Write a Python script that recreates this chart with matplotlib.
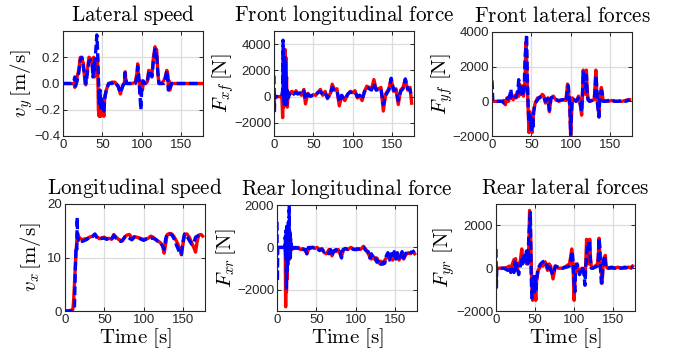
import numpy as np
import matplotlib
matplotlib.use("Agg")
import matplotlib.pyplot as plt

plt.rcParams['mathtext.fontset'] = 'cm'
plt.rcParams['font.family'] = ['Liberation Sans', 'DejaVu Sans']

# ---- lateral speed v_y [m/s] ----
t1 = [0, 5, 10, 14, 15, 16, 18, 20, 22, 24, 26, 28, 29, 31, 33, 35, 37, 38, 39, 40,
      41, 42, 43, 44, 45, 46, 47, 48, 49, 50, 51, 52, 53, 55, 58, 62, 66, 70, 73, 76,
      78, 79, 80, 81, 84, 88, 92, 94, 95, 96, 97, 98, 99, 100, 101, 102, 104, 107, 109, 111,
      113, 115, 117, 118, 119, 120, 121, 122, 125, 128, 130, 132, 133, 134, 135, 136, 138, 140, 145, 150,
      160, 170, 176]
vy_red = [0, 0, 0, 0, -0.03, 0.0, 0.05, 0.1, 0.2, 0.19, 0.15, 0.0, -0.01, 0.1, 0.2, 0.19, 0.15, 0.1, 0.2, 0.05,
          0.15, 0.18, 0.1, 0.19, -0.2, -0.25, -0.1, -0.25, -0.15, -0.24, -0.2, -0.25, -0.1, -0.05, 0.0, 0.01, 0.01, -0.02, -0.08, -0.01,
          0.0, 0.09, 0.02, 0.0, 0.0, 0.0, 0.01, 0.08, 0.15, 0.05, 0.0, -0.08, -0.02, 0.02, -0.05, 0.0, 0.0, 0.01, 0.1, 0.09,
          0.06, 0.2, 0.28, 0.22, 0.26, 0.15, 0.05, 0.0, 0.0, 0.02, 0.05, 0.1, 0.08, -0.03, 0.02, -0.05, 0.0, 0.0, 0, 0,
          0, 0, 0]
vy_blue = [0, 0, 0, 0.02, 0.05, -0.02, 0.02, 0.08, 0.18, 0.2, 0.12, 0.05, 0.0, 0.08, 0.17, 0.18, 0.16, 0.05, 0.15, 0.1,
           0.2, 0.28, 0.37, 0.25, 0.05, -0.15, -0.05, -0.2, -0.1, -0.2, -0.15, -0.21, -0.12, -0.05, 0.0, 0.0, 0.01, -0.02, -0.07, -0.02,
           0.0, 0.08, 0.03, 0.0, 0.0, 0.0, 0.0, 0.05, 0.13, 0.08, 0.0, -0.1, -0.2, -0.05, 0.0, 0.02, 0.0, 0.0, 0.08, 0.1,
           0.05, 0.18, 0.26, 0.2, 0.24, 0.12, 0.06, 0.0, 0.0, 0.0, 0.03, 0.1, 0.06, -0.05, 0.0, -0.03, 0.0, 0.0, 0, 0,
           0, 0, 0]

# ---- front longitudinal force F_xf [N] ----
t2 = [0, 0.5, 1, 1.5, 2, 5, 9, 10, 11, 11.5, 12, 12.5, 13, 13.5, 14, 14.5, 15, 15.5, 16, 16.5,
      17, 18, 20, 23, 25, 28, 30, 33, 35, 38, 40, 43, 46, 50, 53, 56, 59, 62, 65, 68,
      72, 74, 77, 80, 83, 86, 90, 94, 97, 100, 103, 106, 109, 112, 115, 118, 121, 124, 127, 130,
      133, 136, 139, 142, 146, 149, 152, 155, 158, 161, 164, 167, 170, 173, 175]
fxf_red = [0, 0, 0, 0, 0, 0, 0, 0, -1600, 1500, 3300, -800, 2500, 500, 3600, -300, 3000, 800, 1500, -500,
           -800, 200, 300, 400, 200, 450, 250, 300, 100, 550, -550, 250, 0, 150, 100, 350, 550, 100, 400, -150,
           300, 950, 500, 600, -700, 50, -300, 200, 400, 300, 450, -100, 100, -300, 400, 800, 700, 600, 1300, 500,
           600, 700, -1100, 200, 600, 1350, 400, 600, -600, 500, 700, 1300, 500, 700, -500]
fxf_blue = [1600, -1200, 100, 0, 0, 0, 0, 100, 500, 4300, 1000, 2800, -700, 3200, 200, 2500, -200, 1500, -600, 500,
            100, -100, 200, 350, 200, 300, 200, 250, 150, 400, -200, 200, 50, 100, 150, 300, 400, 150, 300, -100,
            250, 700, 500, 450, -400, 100, -200, 200, 350, 300, 350, 0, 100, -200, 350, 700, 600, 500, 1000, 500,
            550, 600, -600, 100, 500, 1400, 500, 500, -300, 400, 600, 1350, 600, 500, -100]

# ---- front lateral force F_yf [N] ----
t3 = [0, 0.5, 1, 3, 8, 13, 15, 17, 19, 21, 23, 24, 25, 27, 29, 31, 33, 34, 35, 37,
      39, 40, 41, 42, 43, 44, 45, 46, 47, 48, 49, 50, 51, 52, 53, 55, 58, 61, 64, 66,
      68, 71, 73, 75, 78, 81, 85, 90, 94, 96, 97, 98, 99, 100, 101, 102, 104, 107, 110, 112,
      114, 115, 116, 117, 118, 119, 120, 121, 122, 124, 127, 130, 131, 132, 133, 134, 135, 136, 137, 139,
      140, 141, 143, 148, 152, 156, 160, 165, 170, 173, 175]
fyf_red = [0, 0, 0, 0, 0, 0, 50, -200, 200, 0, 300, 200, 300, 100, 350, 200, 500, 300, 1000, 400,
           900, 300, 700, 1200, 3400, 2500, 800, -500, -1800, -600, -1500, -900, -1800, -1200, -500, -100, 200, 200, 400, 300,
           -100, 200, -600, 200, 300, 100, 0, 100, 50, 1000, 700, 200, -400, -2000, -1000, 200, 100, 0, 300, -100,
           -800, 300, 1800, 1000, 1500, 400, 1800, 700, 200, 0, 50, 100, 900, 1800, 700, 0, -400, -900, 200, 800,
           600, 100, 0, 0, 50, 0, 0, 0, 50, 100, 100]
fyf_blue = [1200, 700, 0, 0, 0, 0, -100, -50, 100, 200, 400, 700, 200, 100, 200, 300, 700, 1250, 500, 800,
            300, 500, 800, 2500, 3100, 3850, 1300, -300, -1200, -800, -1300, -1800, -1000, -1600, -600, -100, 100, 250, 300, 200,
            0, 150, -500, 200, 250, 100, 50, 100, 0, 700, 900, 300, -300, -1900, -600, 100, 100, 0, 200, -100,
            -600, 400, 1700, 1400, 1200, 800, 1500, 500, 100, 0, 50, 100, 600, 1500, 1000, -100, -500, -900, 300, 600,
            500, 0, 0, 50, 100, 0, 0, 50, 0, 50, 100]

# ---- longitudinal speed v_x [m/s] ----
t4 = [0, 5, 10, 11, 12, 13, 14, 15, 15.5, 16, 17, 19, 22, 25, 28, 31, 35, 38, 41, 44,
      47, 50, 53, 56, 59, 62, 65, 68, 71, 73, 76, 79, 82, 85, 88, 91, 94, 97, 100, 103,
      106, 109, 112, 115, 118, 121, 124, 126, 128, 130, 133, 136, 139, 142, 145, 148, 150, 152, 155, 158,
      161, 164, 166, 168, 170, 173, 175]
vx_red = [0, 0, 0.3, 2, 5, 8, 11, 13, 14, 14.5, 14, 13.6, 13.3, 13.5, 13.5, 13.8, 14, 14.3, 13.8, 13.5,
          13.7, 13.8, 13.5, 13.6, 13.4, 14.3, 13.8, 13.4, 13.2, 13.1, 13.9, 14.2, 14.3, 13.6, 13.9, 13.8, 13.7, 13.5, 13.4, 13.5,
          13.6, 14, 13.8, 13.4, 13.1, 12.8, 12.3, 10.8, 12.5, 14.3, 14.5, 14.4, 13.8, 13, 12, 10.5, 12.5, 14.3, 14.4, 13.8,
          12.8, 11.8, 11, 13, 14.2, 14.3, 14]
vx_blue = [0, 0, 0, 0, 0.5, 7, 12, 11.5, 17.5, 14, 13.2, 13.5, 13, 13.2, 13.4, 13.8, 13.9, 14.4, 13.6, 13.4,
           13.6, 13.6, 13.4, 13.6, 13.3, 14.1, 13.6, 13.3, 13.0, 13.2, 13.8, 14.0, 13.6, 13.3, 13.8, 13.6, 13.6, 13.4, 13.2, 13.4,
           13.5, 13.6, 13.6, 13.4, 13, 12.7, 12.2, 11.5, 13.5, 14.5, 14.4, 14.2, 13.4, 12.2, 11.2, 10.6, 13, 14.4, 14, 13.2,
           12.5, 12.8, 13.8, 14, 14, 14, 14]

# ---- rear longitudinal force F_xr [N] ----
t5 = [0, 0.5, 1, 1.5, 2, 5, 9, 10, 10.5, 11, 11.5, 12, 12.5, 13, 13.5, 14, 14.5, 15, 15.5, 16,
      16.5, 17, 17.5, 18, 19, 21, 24, 27, 30, 33, 36, 38, 40, 42, 45, 48, 51, 54, 57, 60,
      63, 66, 68, 70, 72, 75, 78, 80, 82, 84, 87, 90, 94, 98, 102, 106, 110, 113, 116, 118,
      120, 122, 125, 127, 130, 132, 135, 137, 139, 141, 143, 145, 147, 149, 151, 153, 155, 157, 159, 161,
      163, 165, 167, 170, 173, 175]
fxr_red = [0, 0, 0, 0, 0, 0, 0, 0, -200, -2800, -500, -2100, 200, -1500, -300, -800, 300, -600, 100, -400,
           200, -200, 100, 0, -100, 0, -50, 0, -100, -50, -150, -300, -100, 0, 0, -50, 0, -100, -50, -250,
           -300, -100, -200, -400, -150, -200, -100, -300, -450, -150, -50, -100, 0, -100, -50, -100, 50, -100, -300, -450,
           -550, -400, -600, -500, -750, -650, -800, -600, -500, -300, -550, -400, -600, -300, -500, -350, -600, -500, -250, -550,
           -400, -300, -250, -300, -200, -300]
fxr_blue = [1200, -1600, 0, 100, 0, 0, 0, 100, 500, -500, 800, -2000, 1000, -1200, 600, -600, 1200, -400, 2000, -300,
            800, -500, 400, -100, 100, -50, 0, -50, 0, -100, -100, -300, 0, -50, 0, 0, -50, -150, -100, -200,
            -150, -300, -100, -350, -200, -100, -250, -200, -500, -100, -50, -100, -50, -100, -100, -50, 0, -150, -200, -500,
            -300, -550, -500, -700, -600, -800, -700, -750, -400, -250, -600, -300, -500, -200, -550, -250, -500, -400, -200, -500,
            -300, -250, -150, -250, -200, -150]

# ---- rear lateral force F_yr [N] ----
t6 = [0, 0.5, 1, 3, 10, 15, 17, 19, 21, 23, 24, 25, 27, 29, 31, 33, 34, 35, 37, 39,
      41, 42, 43, 44, 45, 46, 47, 48, 49, 50, 51, 52, 54, 57, 60, 63, 66, 68, 70, 73,
      76, 80, 85, 90, 94, 96, 97, 98, 99, 100, 101, 102, 104, 107, 110, 112, 114, 115, 116, 117,
      118, 119, 120, 121, 122, 124, 127, 130, 131, 132, 133, 134, 135, 136, 137, 139, 140, 141, 143, 148,
      152, 156, 160, 165, 170, 173, 175]
fyr_red = [0, 0, 0, 0, 0, 50, 100, -100, 200, 400, 300, 450, -100, 200, 300, 900, 500, 300, 600, 200,
           500, 1000, 2700, 2000, 500, -1000, -1500, -600, -1400, -1000, -1500, -600, -100, 100, 100, 300, -100, 200, 100, -500,
           100, 0, 0, 100, 200, 600, 900, 300, -300, -1500, -800, 200, 100, -200, 0, -100, -400, 300, 1350, 600,
           1300, 200, 1350, 500, 100, 0, 100, 200, 600, 1400, 500, 0, -300, -700, 100, 500, 600, 100, 0, 0,
           0, 50, 0, 0, 50, 0, 100]
fyr_blue = [900, -900, 0, 0, 0, -100, 50, -200, 100, -200, 300, -100, 200, -300, 100, 400, 200, 700, 300, 800,
            200, 1500, 2000, 2600, -300, -1400, -800, -400, -1200, -400, -1000, -500, 0, 200, 300, 350, 0, 200, -100, -300,
            100, 50, 0, 50, 100, 400, 800, 600, 200, -700, -1100, 0, 200, -300, 50, -100, -800, 100, 600, 1000,
            800, 1300, 900, 300, 0, 0, 50, 100, 400, 1400, 1000, -200, -700, -500, 200, 600, 300, 0, 0, 50,
            0, 50, 0, 50, 0, 50, 0]

panels = [
    (t1, vy_red, vy_blue, r'$\mathrm{Lateral\ speed}$', r'$v_y\,[\mathrm{m/s}]$', (-0.4, 0.4), [-0.4, -0.2, 0, 0.2]),
    (t2, fxf_red, fxf_blue, r'$\mathrm{Front\ longitudinal\ force}$', r'$F_{xf}\,[\mathrm{N}]$', (-3000, 5000), [-2000, 0, 2000, 4000]),
    (t3, fyf_red, fyf_blue, r'$\mathrm{Front\ lateral\ forces}$', r'$F_{yf}\ [\mathrm{N}]$', (-2000, 4000), [-2000, 0, 2000, 4000]),
    (t4, vx_red, vx_blue, r'$\mathrm{Longitudinal\ speed}$', r'$v_x\,[\mathrm{m/s}]$', (0, 20), [0, 10, 20]),
    (t5, fxr_red, fxr_blue, r'$\mathrm{Rear\ longitudinal\ force}$', r'$F_{xr}\,[\mathrm{N}]$', (-3000, 2000), [-2000, 0, 2000]),
    (t6, fyr_red, fyr_blue, r'$\mathrm{Rear\ lateral\ forces}$', r'$F_{yr}\ [\mathrm{N}]$', (-2000, 3000), [-2000, 0, 2000]),
]

# axes boxes in pixels (left, top, right, bottom) on a 680x356 canvas
boxes = [(63, 31, 203, 136), (274, 31, 414, 136), (492, 32, 632, 136),
         (65, 204, 205, 311), (277, 205, 417, 311), (496, 204, 635, 311)]
# x position (axes fraction) of the y label's right edge
ylab_x = [-0.2, -0.27, -0.264, -0.157, -0.279, -0.279]

W, H = 680, 356
fig = plt.figure(figsize=(6.8, 3.56), dpi=100)
dark = '#262626'

for i, ((t, r, b, title, ylab, ylim, yt), (x0, y0, x1, y1)) in enumerate(zip(panels, boxes)):
    ax = fig.add_axes([x0 / W, 1 - y1 / H, (x1 - x0) / W, (y1 - y0) / H])
    ax.plot(t, r, color='red', lw=2.4)
    ax.plot(t, b, color='blue', lw=2.4, dashes=(2.6, 1.1))
    ax.set_xlim(0, 178)
    ax.set_ylim(*ylim)
    ax.set_xticks([0, 50, 100, 150])
    ax.set_yticks(yt)
    ax.grid(True, color='#dcdcdc', lw=0.9)
    ax.set_axisbelow(True)
    ax.tick_params(direction='in', length=3, width=0.7, colors=dark, labelsize=9.5,
                   top=True, right=True, pad=2)
    for s in ax.spines.values():
        s.set_color(dark)
        s.set_linewidth(0.8)
    ax.set_title(title, fontsize=15.2, pad=7.5)
    ax.set_ylabel(ylab, fontsize=15)
    ax.yaxis.set_label_coords(ylab_x[i], 0.5)
    if i >= 3:
        ax.set_xlabel(r'$\mathrm{Time\ [s]}$', fontsize=15, labelpad=0)

fig.savefig('out.png', dpi=100)
